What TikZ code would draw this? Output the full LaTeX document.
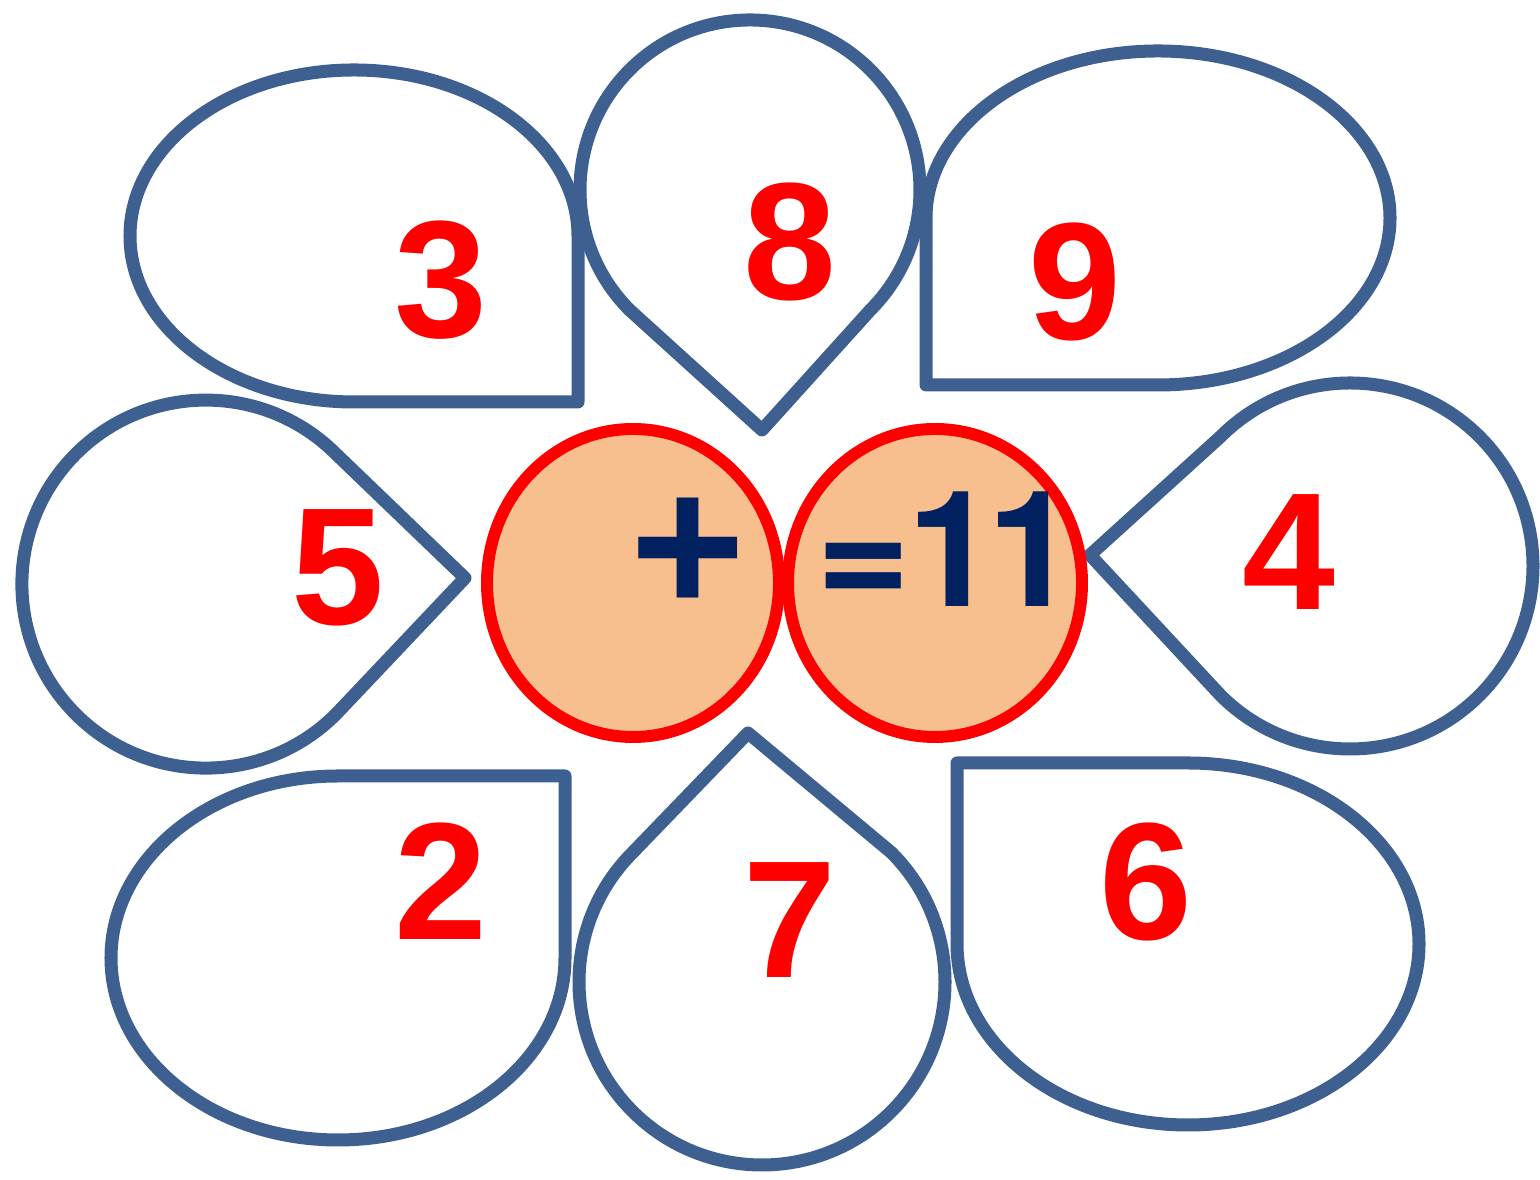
\documentclass[tikz,border=0pt]{standalone}
\usepackage{fontspec}
\setmainfont{Liberation Sans}
\newfontfamily\herosfont{TeX Gyre Heros}
\definecolor{petalblue}{RGB}{62,96,145}
\definecolor{discfill}{RGB}{247,190,142}
\definecolor{signblue}{RGB}{0,32,96}
\tikzset{
    petal/.style={draw=petalblue, line width=3.7pt, fill=white, line join=round},
    disc/.style={draw=red, line width=3.4pt, fill=discfill},
    num/.style={text=red, font=\bfseries\fontsize{47.5}{50}\selectfont, inner sep=0pt, anchor=base},
    sign/.style={text=signblue, font=\bfseries\fontsize{47.5}{50}\selectfont, inner sep=0pt, anchor=base}
}
\begin{document}
\begin{tikzpicture}[x=0.01cm, y=0.01cm]
    \useasboundingbox (0,0) rectangle (1540,1180);

    % top left petal
    \draw[petal] (578,778) -- (578,944) arc[start angle=0, end angle=270, x radius=224, y radius=166] -- cycle;
    % top petal
    \draw[petal] (762,750) -- (870.2,869.8) arc[start angle=-45, end angle=225, radius=170] -- cycle;
    % top right petal
    \draw[petal] (926,795) -- (1158,795) arc[start angle=-90, end angle=180, x radius=232, y radius=167] -- cycle;
    % left petal
    \draw[petal] (465,602) -- (336,726) arc[start angle=45, end angle=315, radius=184] -- cycle;
    % right petal
    \draw[petal] (1090,625) -- (1220.6,484.6) arc[start angle=225, end angle=495, radius=183] -- cycle;
    % bottom left petal
    \draw[petal] (565,404) -- (338,404) arc[start angle=90, end angle=360, x radius=227, y radius=182] -- cycle;
    % bottom petal
    \draw[petal] (748,447) -- (632.6,327.4) arc[start angle=135, end angle=405, radius=183] -- cycle;
    % bottom right petal
    \draw[petal] (957,417) -- (957,236) arc[start angle=180, end angle=450, x radius=231, y radius=181] -- cycle;

    % centre discs
    \draw[disc] (633,597) ellipse[x radius=146, y radius=154];
    \draw[disc] (935,597) ellipse[x radius=147, y radius=154];

    % numbers on the petals
    \node[num] (three) at (441,842) {3};
    \node[num] (eight) at (790,880) {8};
    \node[num] (nine) at (1075,840) {9};
    \node[num] (five) at (338,555) {5};
    \node[num] (four) at (1289,570) {4};
    \node[num] (two) at (441,240) {2};
    \node[num] (seven) at (790,202) {7};
    \node[num] (six) at (1146,240) {6};

    % signs in the discs
    \node[sign, font=\bfseries\fontsize{56}{60}\selectfont] (plus) at (688,566) {+};
    \node[sign, font=\herosfont\bfseries\fontsize{46}{50}\selectfont] (equals) at (947,573) {=\kern-0.025em 1\kern-0.06em 1};
\end{tikzpicture}
\end{document}
